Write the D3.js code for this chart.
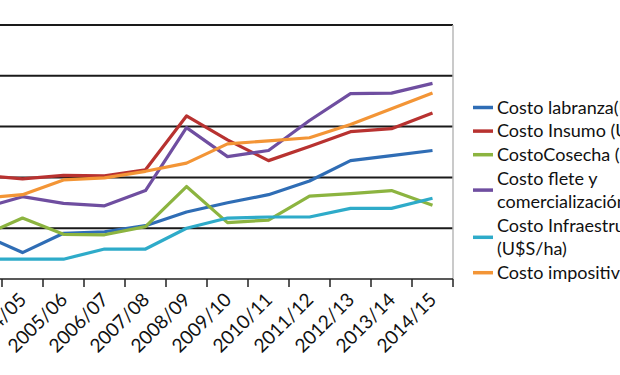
<!DOCTYPE html>
<html>
<head>
<meta charset="utf-8">
<script src="https://cdn.jsdelivr.net/npm/d3@7"></script>
<style>
    body { margin: 0; background: #fff; }
    svg { display: block; font-family: Lato, "Open Sans", sans-serif; }
    .xAxis text { font-size: 19px; fill: #111; }
    .legend text { font-size: 18px; fill: #111; }
</style>
</head>
<body>
<div id="chart"></div>
<script>
// campañas (la primera queda fuera del recorte, a la izquierda)
const campaigns = ['2003/04', '2004/05', '2005/06', '2006/07', '2007/08', '2008/09',
    '2009/10', '2010/11', '2011/12', '2012/13', '2013/14', '2014/15'];

const labranza = [88, 52, 90, 93, 105, 132, 150, 166, 193, 233, 243, 253];
const insumo = [204, 197, 204, 203, 215, 321, 274, 233, 261, 290, 296, 327];
const cosecha = [84, 120, 88, 87, 103, 182, 111, 116, 163, 168, 174, 145];
const flete = [139, 162, 149, 144, 174, 298, 241, 253, 312, 365, 366, 385];
const infraestructura = [39, 39, 39, 59, 59, 100, 120, 122, 122, 139, 139, 159];
const impositivo = [159, 166, 195, 199, 212, 228, 266, 272, 278, 304, 335, 366];

const seriesNames = [
    ['Costo labranza(U$S/ha)'],
    ['Costo Insumo (U$S/ha)'],
    ['CostoCosecha (U$S/ha)'],
    ['Costo flete y', 'comercialización (U$S/ha)'],
    ['Costo Infraestructura', '(U$S/ha)'],
    ['Costo impositivo (U$S/ha)']
];
const seriesValues = [labranza, insumo, cosecha, flete, infraestructura, impositivo];
const colors = ['#2F6DB5', '#B83230', '#8CB440', '#6F4EA0', '#2EABC9', '#F39536'];

const yTicks = [0, 100, 200, 300, 400, 500];

const width = 620, height = 375;
const plot = { left: -39, right: 453, top: 25, bottom: 279 };

const svg = d3.select('#chart').append('svg')
    .attr('width', width)
    .attr('height', height);

let x = d3.scaleBand()
    .domain(campaigns)
    .range([plot.left, plot.right])
    .paddingInner(0)
    .paddingOuter(0);

let y = d3.scaleLinear()
    .domain([0, 500])
    .range([plot.bottom, plot.top]);

// gridlines
svg.append('g')
    .attr('class', 'grid')
    .selectAll('line')
    .data(yTicks.filter(d => d > 0))
    .enter()
    .append('line')
    .attr('x1', plot.left)
    .attr('x2', plot.right)
    .attr('y1', d => y(d))
    .attr('y2', d => y(d))
    .style('stroke', '#1a1a1a')
    .style('stroke-width', 2);

// right border
svg.append('line')
    .attr('x1', plot.right)
    .attr('x2', plot.right)
    .attr('y1', y(500))
    .attr('y2', y(0))
    .style('stroke', '#b8b8b8')
    .style('stroke-width', 1.5);

// x axis, ticks between categories
let xAxis = svg.append('g')
    .attr('class', 'xAxis')
    .attr('transform', `translate(0, ${plot.bottom})`);

xAxis.append('line')
    .attr('x1', plot.left)
    .attr('x2', plot.right)
    .style('stroke', '#222')
    .style('stroke-width', 1.5);

xAxis.selectAll('line.tick')
    .data(campaigns)
    .enter()
    .append('line')
    .attr('class', 'tick')
    .attr('x1', d => x(d) + x.bandwidth())
    .attr('x2', d => x(d) + x.bandwidth())
    .attr('y1', 0)
    .attr('y2', 8)
    .style('stroke', '#222')
    .style('stroke-width', 1.5);

xAxis.selectAll('text')
    .data(campaigns)
    .enter()
    .append('text')
    .attr('text-anchor', 'end')
    .attr('transform', d => `translate(${x(d) + x.bandwidth() / 2 + 5}, 22) rotate(-45)`)
    .text(d => d);

// lines
const line = d3.line()
    .x((d, i) => x(campaigns[i]) + x.bandwidth() / 2)
    .y(d => y(d));

svg.append('g')
    .selectAll('path')
    .data(seriesValues)
    .enter()
    .append('path')
    .attr('d', d => line(d))
    .style('fill', 'none')
    .style('stroke', (d, i) => colors[i])
    .style('stroke-width', 3.2)
    .style('stroke-linejoin', 'round');

// legend
const rowH = 23.6;
let legend = svg.append('g').attr('class', 'legend');
let rowY = 107.5;
seriesNames.forEach((lines, i) => {
    let g = legend.append('g');
    let mid = rowY + (lines.length - 1) * rowH / 2;
    g.append('line')
        .attr('x1', 473)
        .attr('x2', 493)
        .attr('y1', mid)
        .attr('y2', mid)
        .style('stroke', colors[i])
        .style('stroke-width', 3.5);
    lines.forEach((t, j) => {
        g.append('text')
            .attr('x', 497)
            .attr('y', rowY + j * rowH)
            .attr('dy', '0.35em')
            .text(t);
    });
    rowY += lines.length * rowH;
});
</script>
</body>
</html>
